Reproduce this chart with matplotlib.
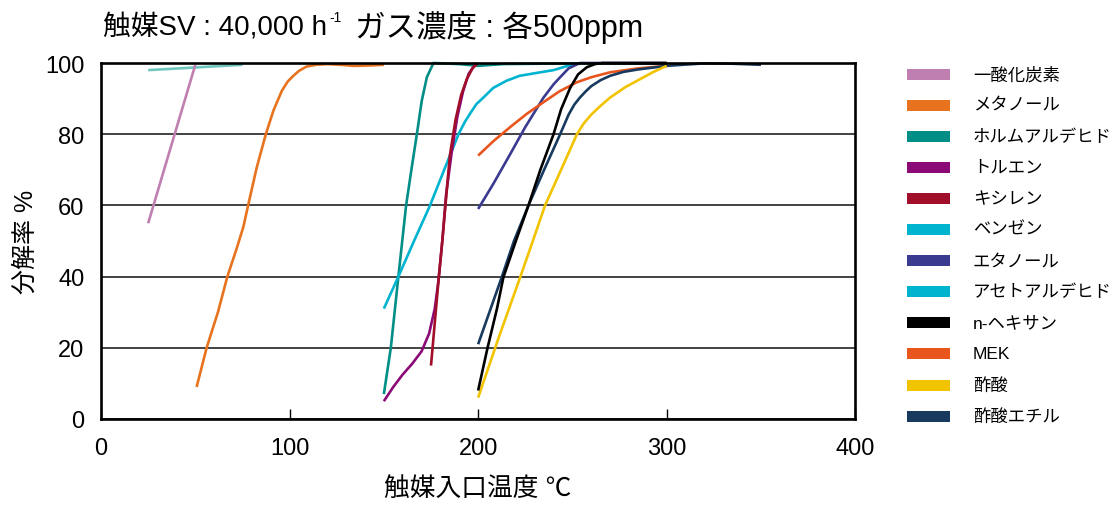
import matplotlib
matplotlib.use('Agg')
import matplotlib.pyplot as plt
from matplotlib.patches import Rectangle

# 英数字は Helvetica 風, 日本語は Noto Sans CJK JP
plt.rcParams['font.family'] = ['Liberation Sans', 'Noto Sans CJK JP', 'DejaVu Sans']

# 各ガスの分解率データ (触媒入口温度 ℃, 分解率 %)
co_x = [25, 50]
co_y = [55, 99.5]

meoh_x = [50.7, 56, 62, 67, 72, 75.5, 78, 82.6, 87.4, 91.4, 95.9, 99, 102, 105, 109, 114, 120, 127, 134, 142, 150]
meoh_y = [9, 20, 30, 40, 48, 54, 60, 70.7, 80, 86.6, 92.2, 94.8, 96.4, 97.8, 99, 99.5, 99.7, 99.5, 99.2, 99.3, 99.5]

hcho_x = [150, 153.7, 157.7, 161.8, 164.8, 167.5, 170.1, 172.8, 176.3, 190, 200, 213, 250, 300]
hcho_y = [7, 20, 40, 60, 70.7, 80, 89.4, 96, 100, 99.7, 99.2, 99.7, 99.9, 99.8]

tol_x = [150, 155, 160, 165, 170, 174, 177, 179, 181, 183, 186, 189, 192, 195, 199]
tol_y = [5, 9, 12.5, 15.5, 19, 24, 31, 39, 50, 63, 75, 85, 92, 97, 100]

xyl_x = [175, 177, 179, 181, 183, 185, 188, 191, 194, 197, 200]
xyl_y = [15, 27, 39, 50, 62, 74, 84, 91, 95.5, 98.5, 100]

bz_x = [150, 157.7, 166, 174.5, 182, 189.6, 193, 196, 199, 202.8, 208, 215, 222, 232, 240, 248.8, 252]
bz_y = [31, 40, 50, 60, 70, 80, 83.5, 86, 88.4, 90.3, 93, 95, 96.4, 97.3, 98, 99.4, 100]

etoh_x = [200, 208, 217, 225, 234.7, 240, 243.5, 248, 254, 275, 300]
etoh_y = [59, 66, 74.4, 82, 90.3, 94, 96, 98.5, 100, 100, 100]

acal_x = [25, 75]
acal_y = [98, 99.5]

hex_x = [200, 205, 210, 213.4, 220, 226.7, 233, 240, 244, 248.8, 253, 257.6, 262, 266, 300]
hex_y = [8, 20, 31, 39.8, 50, 60, 70, 80, 87, 93, 96.8, 98.8, 99.7, 100, 100]

mek_x = [200, 208, 217, 226, 234.7, 243, 252.4, 260, 270, 285, 300]
mek_y = [74, 78, 82, 85.8, 89, 92, 94.6, 96, 97.4, 98.5, 99.2]

aa_x = [200, 211, 222.3, 229, 235.5, 244, 252.4, 256, 260, 265, 270, 278, 286, 293, 300]
aa_y = [6, 23, 39.8, 50, 60, 70, 80, 83, 85.5, 88, 90.3, 93.2, 95.5, 97.5, 99.2]

ea_x = [200, 212.5, 219, 226.7, 235, 243.5, 248, 251, 254, 257, 260, 265, 270, 277, 285, 300, 320, 335, 350]
ea_y = [21, 39.8, 50, 60, 70, 80, 85.5, 88.3, 90.3, 92, 93.5, 95.2, 96.4, 97.5, 98.2, 99.2, 99.9, 99.8, 99.5]

labels = ['一酸化炭素', 'メタノール', 'ホルムアルデヒド', 'トルエン', 'キシレン', 'ベンゼン',
          'エタノール', 'アセトアルデヒド', 'n-ヘキサン', 'MEK', '酢酸', '酢酸エチル']
colors = ['#BF7FB0', '#E8731E', '#008E86', '#8C0A78', '#A00E2A', '#00B4D0',
          '#3A3A90', '#00B4D0', '#000000', '#E8561E', '#F2C300', '#183A5E']
series = [(co_x, co_y), (meoh_x, meoh_y), (hcho_x, hcho_y), (tol_x, tol_y),
          (xyl_x, xyl_y), (bz_x, bz_y), (etoh_x, etoh_y), (acal_x, acal_y),
          (hex_x, hex_y), (mek_x, mek_y), (aa_x, aa_y), (ea_x, ea_y)]
line_colors = list(colors)
line_colors[7] = '#6EC6BE'   # アセトアルデヒドの線は少し薄い色

fig = plt.figure(figsize=(11.14, 5.10), dpi=100)
ax = fig.add_axes([0.0907, 0.1765, 0.677, 0.698])

# 描画順 (後ろから)
order = [7, 0, 1, 2, 5, 3, 4, 6, 9, 11, 10, 8]
for i in order:
    x, y = series[i]
    ax.plot(x, y, color=line_colors[i], lw=1.9, clip_on=False,
            solid_capstyle='butt', solid_joinstyle='round', zorder=3)

ax.set_xlim(0, 400)
ax.set_ylim(0, 100)
ax.set_xticks([0, 100, 200, 300, 400])
ax.set_yticks([0, 20, 40, 60, 80, 100])
ax.yaxis.grid(True, color='#222222', lw=1.2)
ax.set_axisbelow(True)
for s in ax.spines.values():
    s.set_linewidth(1.9)
    s.set_zorder(4)
ax.tick_params(axis='x', direction='in', length=7, width=1, pad=13, labelsize=17)
ax.tick_params(axis='y', length=0, pad=12, labelsize=17)

ax.set_xlabel('触媒入口温度 ℃', fontsize=18.5, labelpad=12)
ax.set_ylabel('分解率 %', fontsize=18, labelpad=5)

# タイトル (上付き -1 は小さい文字で別に置く)
W, H = 1114, 510
r = fig.canvas.get_renderer()
t1 = fig.text(103 / W, 1 - 27 / H, '触媒SV : 40,000 h', fontsize=20, ha='left', va='center')
x1 = t1.get_window_extent(r).x1
t2 = fig.text((x1 + 2) / W, 1 - 18 / H, '-1', fontsize=10, ha='left', va='center')
x2 = t2.get_window_extent(r).x1
fig.text((x2 + 14) / W, 1 - 27 / H, 'ガス濃度 : 各500ppm', fontsize=22, ha='left', va='center')

# 凡例 (手描き)
for i, lab in enumerate(labels):
    yc = 1 - (75 + i * 31.1) / H
    fig.patches.append(Rectangle((907 / W, yc - 5.5 / H), 43 / W, 11 / H,
                                 transform=fig.transFigure, color=colors[i], lw=0))
    fig.text(973 / W, yc, lab, fontsize=12.5, ha='left', va='center')

fig.savefig('out.png', dpi=100)
